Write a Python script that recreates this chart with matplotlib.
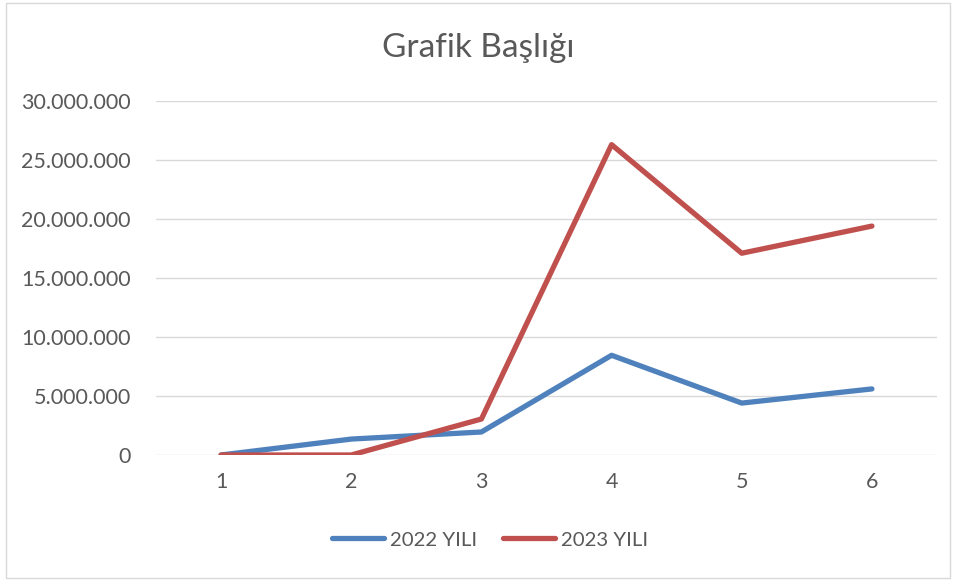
import matplotlib.pyplot as plt
from matplotlib.ticker import FuncFormatter
from matplotlib.patches import Rectangle

plt.rcParams['font.family'] = ['Lato', 'DejaVu Sans']

# veriler
x = [1, 2, 3, 4, 5, 6]
y2022 = [0, 1350000, 1950000, 8450000, 4400000, 5600000]
y2023 = [0, 0, 3050000, 26300000, 17100000, 19400000]
yticks = [0, 5000000, 10000000, 15000000, 20000000, 25000000, 30000000]

fig = plt.figure(figsize=(9.56, 5.81), dpi=100)
ax = fig.add_axes([156 / 956, 1 - 455 / 581, (937 - 156) / 956, (455 - 101) / 581])

# dis cerceve
fig.patches.append(Rectangle((6 / 956, 3 / 581), 944 / 956, 575 / 581, transform=fig.transFigure,
                             fill=False, edgecolor='#d9d9d9', lw=1))

ax.plot(x, y2022, color='#4F81BD', lw=3.8, label='2022 YILI', solid_capstyle='round', solid_joinstyle='round')
ax.plot(x, y2023, color='#C0504D', lw=3.8, label='2023 YILI', solid_capstyle='round', solid_joinstyle='round')

ax.set_xlim(0.5, 6.5)
ax.set_ylim(0, 30000000)
ax.set_yticks(yticks)
ax.set_xticks(x)
ax.yaxis.set_major_formatter(FuncFormatter(lambda v, p: f'{int(v):,}'.replace(',', '.')))
ax.grid(axis='y', color='#d9d9d9', lw=1)
ax.set_axisbelow(True)
for s in ax.spines.values():
    s.set_visible(False)
ax.tick_params(length=0, labelsize=15.5, colors='#595959')
ax.tick_params(axis='y', pad=18)
ax.tick_params(axis='x', pad=12)

fig.text(0.5, 1 - 48 / 581, 'Grafik Başlığı', ha='center', va='center', fontsize=24, color='#595959')
fig.legend(loc='center', bbox_to_anchor=(490 / 956, 1 - 540 / 581), ncol=2, frameon=False,
           fontsize=14.7, labelcolor='#595959', handlelength=2.55, columnspacing=1.25, handletextpad=0.3)

fig.savefig('out.png', dpi=100)
